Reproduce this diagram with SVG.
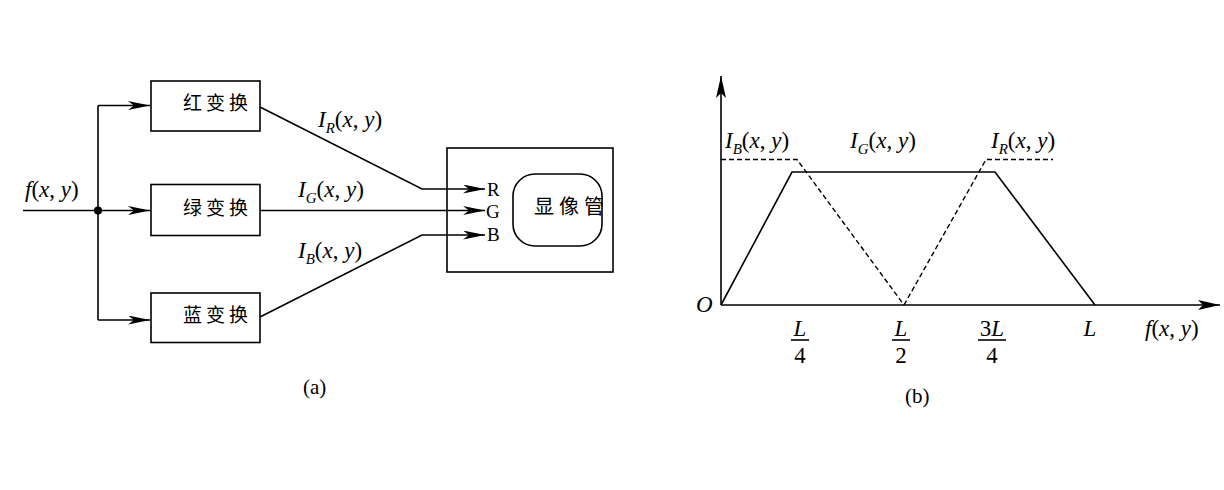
<svg xmlns="http://www.w3.org/2000/svg" width="1224" height="490" viewBox="0 0 1224 490">
<style>
.ln{fill:none;stroke:#000;stroke-width:1.6}
.dash{fill:none;stroke:#000;stroke-width:1.4;stroke-dasharray:5,3}
.box{fill:none;stroke:#000;stroke-width:1.6}
.t{font-family:"Liberation Serif","Times New Roman",serif;font-size:23px;fill:#000}
.i{font-style:italic}
.sub{font-size:15px;font-style:italic}
.cn{font-family:"Noto Sans CJK SC",sans-serif;font-size:19px;fill:#000}
.rgb{font-family:"Liberation Serif","Times New Roman",serif;font-size:19px;fill:#000}
</style>
<defs>
<marker id="arr" markerUnits="userSpaceOnUse" markerWidth="24" markerHeight="10" refX="22" refY="4.5" orient="auto">
<path d="M0,0 L22,4.5 L0,9 L6,4.5 z" fill="#000"/>
</marker>
<marker id="arrb" markerUnits="userSpaceOnUse" markerWidth="24" markerHeight="12" refX="22" refY="5" orient="auto">
<path d="M0,0 L22,5 L0,10 L5,5 z" fill="#000"/>
</marker>
</defs>

<g id="red">
<rect class="box" x="151" y="81" width="109" height="50"/>
<text class="cn" x="183" y="110">红</text><text class="cn" x="206" y="110">变</text><text class="cn" x="229" y="110">换</text>
</g>
<g id="green">
<rect class="box" x="151" y="184.5" width="109" height="51"/>
<text class="cn" x="183" y="215">绿</text><text class="cn" x="206" y="215">变</text><text class="cn" x="229" y="215">换</text>
</g>
<g id="blue">
<rect class="box" x="151" y="293" width="109" height="49.5"/>
<text class="cn" x="183" y="322">蓝</text><text class="cn" x="206" y="322">变</text><text class="cn" x="229" y="322">换</text>
</g>
<g id="crt">
<rect class="box" x="447" y="148" width="166" height="124"/>
<rect class="ln" x="513" y="174" width="89" height="72" rx="22" ry="22"/>
<text class="cn" x="534" y="214" style="font-size:20px">显</text><text class="cn" x="559" y="214" style="font-size:20px">像</text><text class="cn" x="584" y="214" style="font-size:20px">管</text>
<text class="rgb" x="487" y="196">R</text>
<text class="rgb" x="486" y="218">G</text>
<text class="rgb" x="487" y="241">B</text>
</g>

<g id="connectors">
<line class="ln" x1="23" y1="210.5" x2="98" y2="210.5"/>
<line class="ln" x1="98" y1="105.5" x2="98" y2="320"/>
<line class="ln" x1="98" y1="105.5" x2="150" y2="105.5" marker-end="url(#arr)"/>
<line class="ln" x1="98" y1="210.5" x2="150" y2="210.5" marker-end="url(#arr)"/>
<line class="ln" x1="98" y1="320" x2="150" y2="320" marker-end="url(#arr)"/>
<polyline class="ln" points="260,107 422,189 485,189" marker-end="url(#arr)"/>
<line class="ln" x1="260" y1="210.5" x2="485" y2="210.5" marker-end="url(#arr)"/>
<polyline class="ln" points="260,317 422,235 485,235" marker-end="url(#arr)"/>
<circle cx="98" cy="210.5" r="4" fill="#000"/>
</g>

<g id="labels-a">
<text class="t" x="25" y="197"><tspan class="i">f</tspan>(<tspan class="i">x</tspan>, <tspan class="i">y</tspan>)</text>
<text class="t" x="318" y="127"><tspan class="i">I</tspan><tspan class="sub" dy="6">R</tspan><tspan dy="-6">(</tspan><tspan class="i">x</tspan>, <tspan class="i">y</tspan>)</text>
<text class="t" x="298" y="197"><tspan class="i">I</tspan><tspan class="sub" dy="6">G</tspan><tspan dy="-6">(</tspan><tspan class="i">x</tspan>, <tspan class="i">y</tspan>)</text>
<text class="t" x="298" y="258"><tspan class="i">I</tspan><tspan class="sub" dy="6">B</tspan><tspan dy="-6">(</tspan><tspan class="i">x</tspan>, <tspan class="i">y</tspan>)</text>
<text class="t" x="303" y="394" style="font-size:21px">(a)</text>
</g>

<g id="chart">
<line class="ln" x1="721" y1="305" x2="721" y2="76" marker-end="url(#arrb)"/>
<line class="ln" x1="721" y1="305" x2="1220" y2="305" marker-end="url(#arrb)"/>
<polyline class="ln" points="721,305 792,172 995,172 1095,305"/>
<polyline class="dash" points="721,159.5 797,159.5 904,305"/>
<polyline class="dash" points="904,305 986,159.5 1053,159.5"/>
</g>

<g id="labels-b">
<text class="t" x="725" y="148"><tspan class="i">I</tspan><tspan class="sub" dy="6">B</tspan><tspan dy="-6">(</tspan><tspan class="i">x</tspan>, <tspan class="i">y</tspan>)</text>
<text class="t" x="850" y="148"><tspan class="i">I</tspan><tspan class="sub" dy="6">G</tspan><tspan dy="-6">(</tspan><tspan class="i">x</tspan>, <tspan class="i">y</tspan>)</text>
<text class="t" x="991" y="148"><tspan class="i">I</tspan><tspan class="sub" dy="6">R</tspan><tspan dy="-6">(</tspan><tspan class="i">x</tspan>, <tspan class="i">y</tspan>)</text>
<text class="t i" x="696" y="312">O</text>
<text class="t i" x="800" y="336" text-anchor="middle">L</text>
<line class="ln" x1="791" y1="340" x2="809" y2="340"/>
<text class="t" x="800" y="363" text-anchor="middle">4</text>
<text class="t i" x="901" y="336" text-anchor="middle">L</text>
<line class="ln" x1="892" y1="340" x2="910" y2="340"/>
<text class="t" x="901" y="363" text-anchor="middle">2</text>
<text class="t" x="992" y="336" text-anchor="middle">3<tspan class="i">L</tspan></text>
<line class="ln" x1="978" y1="340" x2="1006" y2="340"/>
<text class="t" x="992" y="363" text-anchor="middle">4</text>
<text class="t i" x="1090" y="336" text-anchor="middle">L</text>
<text class="t" x="1145" y="336"><tspan class="i">f</tspan>(<tspan class="i">x</tspan>, <tspan class="i">y</tspan>)</text>
<text class="t" x="905" y="403" style="font-size:21px">(b)</text>
</g>
</svg>
